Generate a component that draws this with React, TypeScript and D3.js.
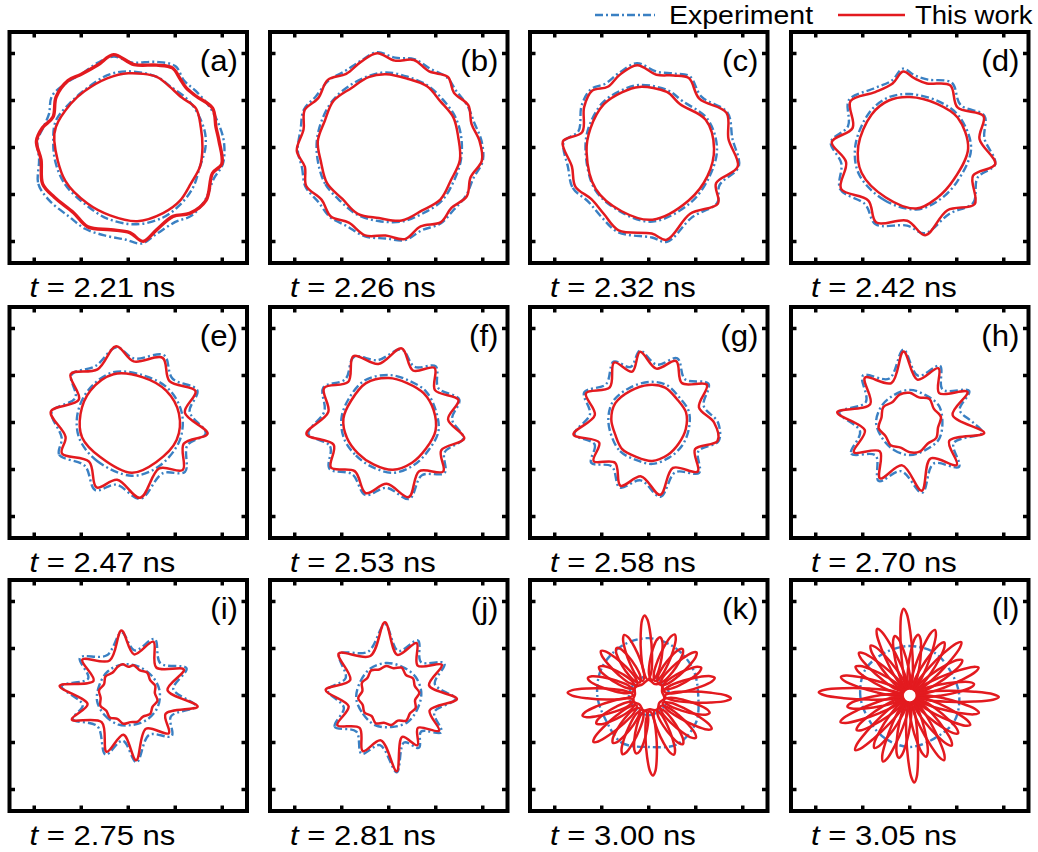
import React from "react";
import * as d3 from "d3";

// knots are [angle in degrees (ccw from +x), radius in axis units]
type Knot = [number, number];

const panelLabels = ["(a)", "(b)", "(c)", "(d)", "(e)", "(f)", "(g)", "(h)", "(i)", "(j)", "(k)", "(l)"];
const times = ["2.21", "2.26", "2.32", "2.42", "2.47", "2.53", "2.58", "2.70", "2.75", "2.81", "3.00", "3.05"];
const tickValues = [-95, -47.5, 0, 47.5, 95];

// ---- This work (red), outer shell
const simOuter: Knot[][] = [
  [[99,95],[86,84],[71,88],[61,92],[53,87],[46,84],[37,86],[25,94],[13,91],[4,92],[-10,96],[-17,89],[-34,95],[-47,91],[-57,83],[-71,88],[-81,96],[-89,86],[-102,85],[-117,90],[-130,86],[-146,90],[-157,94],[-172,89],[176,93],[167,89],[158,82],[145,89],[132,91],[123,88],[110,89]],
  [[97,96],[86,88],[74,92],[62,87],[50,93],[40,86],[28,91],[16,87],[4,92],[-8,95],[-20,88],[-32,93],[-44,88],[-55,92],[-68,86],[-80,94],[-92,89],[-105,92],[-118,86],[-130,91],[-142,86],[-155,92],[-167,87],[-178,93],[168,88],[156,93],[145,87],[132,92],[120,86],[108,91]],
  [[98,84],[84,74],[71,77],[60,81],[44,71],[24,86],[6,81],[-12,92],[-28,77],[-39,90],[-58,79],[-79,95],[-88,87],[-110,89],[-124,81],[-138,78],[-152,84],[-166,80],[176,87],[167,69],[148,77],[135,81],[124,74],[112,79]],
  [[95,77],[86,70],[75,67],[57,75],[40,63],[23,81],[7,71],[-11,88],[-24,70],[-41,87],[-59,74],[-80,90],[-92,74],[-114,83],[-128,68],[-149,81],[-167,66],[176,79],[161,61],[142,76],[122,66],[105,67]],
  [[99,78],[85,62],[62,74],[45,59],[25,75],[10,58],[-8,81],[-21,60],[-41,73],[-56,56],[-81,77],[-101,59],[-116,73],[-135,56],[-155,74],[-167,65],[172,79],[155,55],[140,76],[120,62]],
  [[80,76],[65,58],[50,72],[35,57],[18,74],[3,60],[-12,78],[-28,60],[-42,74],[-58,58],[-75,78],[-92,62],[-108,75],[-125,60],[-142,74],[-158,60],[-172,84],[170,62],[152,74],[135,58],[118,76],[100,60]],
  [[97,72],[82,55],[66,68],[50,52],[33,70],[17,53],[0,66],[-15,72],[-30,54],[-45,70],[-62,52],[-81,74],[-98,55],[-114,70],[-130,53],[-145,68],[-158,54],[-171,77],[172,55],[155,70],[138,53],[120,70],[108,54]],
  [[95,72],[80,44],[62,62],[45,42],[28,66],[10,44],[-8,76],[-25,44],[-42,64],[-60,42],[-80,70],[-100,44],[-118,64],[-136,42],[-152,64],[-170,46],[172,74],[155,44],[135,64],[115,44]],
  [[96,66],[82,42],[65,60],[45,40],[25,62],[8,40],[-9,71],[-26,42],[-43,56],[-62,38],[-83,66],[-97,40],[-111,61],[-135,38],[-157,62],[-168,42],[172,70],[157,38],[142,59],[118,40]],
  [[93,74],[78,42],[62,60],[46,42],[30,62],[14,42],[-3,69],[-20,44],[-35,62],[-48,44],[-60,58],[-72,44],[-84,77],[-100,46],[-115,62],[-132,44],[-150,60],[-165,42],[175,64],[158,42],[140,66],[115,44]],
  [],
  [],
];

// ---- This work (red), inner interface
const simInner: Knot[][] = [
  [[90,75],[68,77],[59,75],[43,74],[30,79],[15,76],[0,75],[-15,75],[-30,73],[-46,75],[-62,75],[-83,75],[-105,71],[-126,70],[-152,72],[175,75],[164,76],[143,73],[128,72],[107,73]],
  [[92,74],[75,72],[58,73],[42,70],[25,72],[8,71],[-10,73],[-28,71],[-45,74],[-62,72],[-80,75],[-98,72],[-115,74],[-132,70],[-150,72],[-168,70],[175,72],[158,70],[140,73],[122,71],[106,74]],
  [[99,62],[72,59],[54,54],[26,64],[-1,66],[-26,66],[-53,67],[-87,73],[-113,70],[-142,68],[-176,63],[162,62],[136,63],[116,62]],
  [[90,51],[58,52],[32,57],[-1,59],[-36,55],[-62,58],[-84,62],[-116,56],[-152,55],[178,52],[139,51],[114,52]],
  [[107,51],[72,48],[40,50],[10,52],[-20,52],[-55,49],[-86,51],[-129,45],[-162,49],[170,49],[140,50]],
  [[90,45],[65,44],[40,46],[15,47],[-10,48],[-35,46],[-60,47],[-85,48],[-110,45],[-135,44],[-160,45],[175,46],[150,44],[120,46]],
  [[90,38],[65,39],[40,37],[15,39],[-10,38],[-35,37],[-60,38],[-85,39],[-110,37],[-135,38],[-160,36],[175,38],[150,39],[120,37]],
  [[90,30],[70,27],[50,31],[30,28],[10,32],[-10,29],[-30,31],[-50,28],[-70,31],[-90,30],[-110,27],[-130,30],[-150,28],[-170,32],[170,29],[150,31],[130,27],[110,30]],
  [[100,32],[90,29],[80,31],[65,28],[50,30],[35,27],[20,29],[5,27],[-10,30],[-25,27],[-40,29],[-55,26],[-70,28],[-85,27],[-100,29],[-115,26],[-130,29],[-145,27],[-160,30],[-175,28],[170,30],[155,27],[140,30],[125,28],[110,31]],
  [[95,30],[80,28],[65,31],[50,27],[35,30],[20,28],[5,31],[-10,27],[-25,30],[-40,28],[-55,31],[-70,27],[-85,30],[-100,28],[-115,31],[-130,27],[-145,30],[-160,28],[-175,31],[170,27],[155,30],[140,28],[125,31],[110,28]],
  [[90,16],[65,13],[40,17],[15,14],[-10,16],[-35,13],[-60,17],[-85,14],[-110,16],[-135,13],[-160,17],[175,14],[150,16],[120,13]],
  [],
];

// ---- Experiment (blue), outer shell
const expOuter: Knot[][] = [
  [[99,93],[88,86],[72,91],[60,95],[50,88],[40,89],[26,92],[12,95],[2,97],[-10,97],[-20,92],[-34,94],[-47,94],[-58,89],[-72,92],[-82,98],[-92,93],[-104,92],[-118,93],[-131,92],[-146,96],[-158,98],[-172,91],[176,92],[166,88],[157,87],[146,93],[132,90],[122,88],[110,91]],
  [[97,97],[86,91],[74,93],[62,90],[50,92],[40,89],[28,90],[16,90],[4,94],[-8,96],[-20,91],[-32,92],[-44,91],[-56,93],[-68,90],[-80,95],[-92,92],[-105,93],[-118,90],[-130,92],[-142,90],[-155,93],[-167,90],[-178,92],[168,91],[156,94],[145,90],[132,91],[120,89],[108,92]],
  [[98,86],[84,77],[71,79],[60,83],[44,74],[24,87],[6,85],[-12,93],[-28,81],[-39,89],[-58,83],[-79,97],[-88,91],[-110,91],[-124,85],[-138,82],[-152,87],[-166,84],[176,86],[167,73],[148,80],[135,83],[124,78],[112,81]],
  [[95,80],[86,73],[75,71],[57,78],[40,67],[23,82],[7,76],[-11,88],[-24,75],[-41,85],[-59,78],[-80,88],[-92,79],[-114,85],[-128,73],[-149,82],[-167,71],[176,80],[161,66],[142,78],[122,70],[105,70]],
  [[99,77],[85,65],[62,77],[45,63],[25,77],[10,63],[-8,79],[-21,64],[-41,76],[-56,62],[-81,78],[-101,64],[-116,76],[-135,62],[-155,77],[-167,69],[172,78],[155,59],[140,75],[120,66]],
  [[80,75],[65,62],[50,74],[35,61],[18,75],[3,64],[-12,77],[-28,64],[-42,76],[-58,63],[-75,80],[-92,66],[-108,77],[-125,64],[-142,76],[-158,64],[-172,82],[170,66],[152,75],[135,62],[118,75],[100,64]],
  [[97,73],[82,59],[66,71],[50,57],[33,72],[17,58],[0,70],[-15,73],[-30,58],[-45,72],[-62,57],[-81,76],[-98,59],[-114,72],[-130,58],[-145,71],[-158,59],[-171,76],[172,60],[155,72],[138,58],[120,71],[108,59]],
  [[95,74],[80,48],[62,65],[45,47],[28,68],[14,52],[0,64],[-8,74],[-25,49],[-42,67],[-60,48],[-80,72],[-100,50],[-118,67],[-136,48],[-152,67],[-170,51],[172,72],[155,49],[135,67],[115,49]],
  [[96,64],[82,46],[65,63],[45,46],[25,65],[8,46],[-9,69],[-26,48],[-43,60],[-62,45],[-83,68],[-97,46],[-111,64],[-135,44],[-157,61],[-168,47],[172,68],[157,44],[142,62],[118,46]],
  [[93,72],[78,46],[62,63],[46,47],[30,65],[14,48],[-3,67],[-20,49],[-35,65],[-48,49],[-60,61],[-72,50],[-84,78],[-100,51],[-115,65],[-132,49],[-150,63],[-165,47],[175,62],[158,47],[140,65],[115,49]],
  [[90,58],[60,55],[30,52],[0,50],[-30,55],[-60,57],[-90,52],[-120,55],[-150,50],[180,52],[150,55],[120,57]],
  [[90,50],[60,50],[30,48],[0,50],[-30,52],[-60,50],[-90,52],[-120,50],[-150,48],[180,50],[150,52],[120,50]],
];

// ---- Experiment (blue), inner interface
const expInner: Knot[][] = [
  [[90,77],[68,77],[55,75],[40,77],[28,78],[12,79],[0,78],[-15,75],[-32,77],[-48,78],[-64,79],[-84,78],[-106,75],[-128,72],[-150,74],[-168,75],[176,76],[160,78],[142,74],[125,73],[106,76]],
  [[92,76],[75,74],[58,74],[42,73],[25,74],[8,74],[-10,74],[-28,74],[-45,76],[-62,75],[-80,76],[-98,75],[-115,75],[-132,73],[-150,74],[-168,73],[175,73],[158,73],[140,74],[122,74],[106,75]],
  [[99,64],[72,61],[54,58],[26,66],[-1,69],[-26,68],[-53,70],[-87,75],[-113,71],[-142,69],[-176,64],[162,64],[136,65],[116,64]],
  [[90,54],[58,55],[32,59],[-1,62],[-36,59],[-62,61],[-84,63],[-116,59],[-152,58],[178,55],[139,54],[114,55]],
  [[107,53],[72,50],[40,53],[10,55],[-20,55],[-55,54],[-86,54],[-129,50],[-162,52],[170,52],[140,52]],
  [[90,48],[65,47],[40,49],[15,49],[-10,51],[-35,49],[-60,50],[-85,51],[-110,48],[-135,47],[-160,48],[175,48],[150,47],[120,49]],
  [[90,41],[65,42],[40,40],[15,42],[-10,41],[-35,41],[-60,41],[-85,42],[-110,40],[-135,41],[-160,40],[175,41],[150,42],[120,40]],
  [[90,33],[60,32],[30,34],[0,33],[-30,34],[-60,32],[-90,33],[-120,32],[-150,32],[180,34],[150,33],[120,32]],
  [[100,32],[70,31],[40,31],[10,32],[-20,32],[-50,31],[-80,30],[-110,31],[-140,31],[-170,32],[160,31],[130,32]],
  [[95,33],[65,32],[35,33],[5,33],[-25,32],[-55,33],[-85,32],[-115,33],[-145,32],[-175,33],[155,32],[125,33]],
  [[90,20],[45,19],[0,21],[-45,19],[-90,20],[-135,19],[180,20],[135,19]],
  [[90,14],[45,13],[0,14],[-45,13],[-90,14],[-135,13],[180,14],[135,13]],
];

// ---- petals of the late-time red curves in (k) and (l): [angle deg, tip radius]
const petalsK: Knot[] = [[178,82],[164,64],[150,58],[137,66],[124,58],[112,66],[93,81],[79,60],[67,67],[54,58],[42,65],[28,60],[15,69],[-2,83],[-16,64],[-28,72],[-42,64],[-55,60],[-67,65],[-87,81],[-102,60],[-114,65],[-127,60],[-140,73],[-152,60],[-163,70]];
const petalsL: Knot[] = [[178,92],[165,72],[152,62],[140,67],[128,64],[116,75],[104,62],[94,88],[82,62],[69,71],[57,64],[46,75],[34,64],[22,75],[10,66],[-1,90],[-14,72],[-26,68],[-38,62],[-50,66],[-62,74],[-75,64],[-87,88],[-100,64],[-112,72],[-124,64],[-135,78],[-147,64],[-159,75],[-170,64]];
const petalSets: (Knot[] | null)[] = [null, null, null, null, null, null, null, null, null, null, petalsK, petalsL];

const W = 1038;
const H = 852;
const colX = [9.5, 270, 530, 791];
const rowY = [32, 307, 580];
const boxW = 237.5;
const boxH = 231;
const RED = "#e31a1f";
const BLUE = "#3a80c3";
const FONT = "'Liberation Sans', Arial, sans-serif";

const toXY = (k: Knot): [number, number] => {
  const t = (k[0] * Math.PI) / 180;
  return [k[1] * Math.cos(t), k[1] * Math.sin(t)];
};

// outline of one elongated loop, from its base radius out to its tip
function petalPoints(p: Knot, r0: number, hw: number): [number, number][] {
  const t = (p[0] * Math.PI) / 180;
  const ux = Math.cos(t), uy = Math.sin(t);
  const vx = -uy, vy = ux;
  const shape = [[0, 0], [0.12, 0.7], [0.4, 1], [0.7, 0.9], [0.93, 0.5], [1, 0], [0.93, -0.5], [0.7, -0.9], [0.4, -1], [0.12, -0.7]];
  return shape.map(([f, w]) => {
    const r = r0 + f * (p[1] - r0);
    return [r * ux + w * hw * vx, r * uy + w * hw * vy] as [number, number];
  });
}

function Panel({ i }: { i: number }) {
  const left = colX[i % 4];
  const top = rowY[Math.floor(i / 4)];
  const x = d3.scaleLinear().domain([-120, 120]).range([left, left + boxW]);
  const half = boxH / 2 / (boxW / 240);
  const y = d3.scaleLinear().domain([-half, half]).range([top + boxH, top]);
  const line = d3
    .line<[number, number]>()
    .x((d) => x(d[0]))
    .y((d) => y(d[1]))
    .curve(d3.curveCatmullRomClosed.alpha(0.5));
  const path = (ks: Knot[]) =>
    ks.length ? line([...ks].sort((a, b) => a[0] - b[0]).map(toXY)) || "" : "";
  const petals = petalSets[i];
  const tl = 5.5;

  return (
    <g>
      {[expOuter[i], expInner[i]].map((ks, j) => (
        <path key={"e" + j} d={path(ks)} fill="none" stroke={BLUE} strokeWidth={2.4} strokeDasharray="8,3,2,3" />
      ))}
      {[simOuter[i], simInner[i]].map((ks, j) => (
        <path key={"s" + j} d={path(ks)} fill="none" stroke={RED} strokeWidth={i === 0 && j === 0 ? 3.4 : 2.5} />
      ))}
      {petals &&
        petals.map((p, j) => (
          <path
            key={"p" + j}
            d={line(petalPoints(p, i === 10 ? 16 : 7, i === 10 ? 5.5 : 5.6)) || ""}
            fill="none"
            stroke={RED}
            strokeWidth={2.5}
          />
        ))}
      <rect x={left} y={top} width={boxW} height={boxH} fill="none" stroke="#000" strokeWidth={4} />
      {tickValues.map((v) => (
        <g key={v} stroke="#000" strokeWidth={3.5}>
          <line x1={x(v)} x2={x(v)} y1={top} y2={top + tl} />
          <line x1={x(v)} x2={x(v)} y1={top + boxH} y2={top + boxH - tl} />
          <line x1={left} x2={left + tl} y1={y(v)} y2={y(v)} />
          <line x1={left + boxW} x2={left + boxW - tl} y1={y(v)} y2={y(v)} />
        </g>
      ))}
      <text
        transform={`translate(${left + boxW - 9},${top + 39}) scale(1.04,1)`}
        textAnchor="end"
        fontFamily={FONT}
        fontSize={30}
      >
        {panelLabels[i]}
      </text>
      <text transform={`translate(${left + 20},${top + boxH + 33.5}) scale(1.15,1)`} fontFamily={FONT} fontSize={27}>
        <tspan fontStyle="italic">t</tspan> = {times[i]} ns
      </text>
    </g>
  );
}

export default function App() {
  return (
    <svg width={W} height={H} style={{ position: "absolute", left: 0, top: 0, background: "#fff" }}>
      <rect width={W} height={H} fill="#fff" />
      {panelLabels.map((_, i) => (
        <Panel key={i} i={i} />
      ))}
      <line x1={595} x2={655} y1={15} y2={15} stroke={BLUE} strokeWidth={2.5} strokeDasharray="8,3,2,3" />
      <text transform="translate(669,24) scale(1.14,1)" fontFamily={FONT} fontSize={25}>
        Experiment
      </text>
      <line x1={838} x2={905} y1={15} y2={15} stroke={RED} strokeWidth={2.5} />
      <text transform="translate(915,24) scale(1.1,1)" fontFamily={FONT} fontSize={25}>
        This work
      </text>
    </svg>
  );
}
